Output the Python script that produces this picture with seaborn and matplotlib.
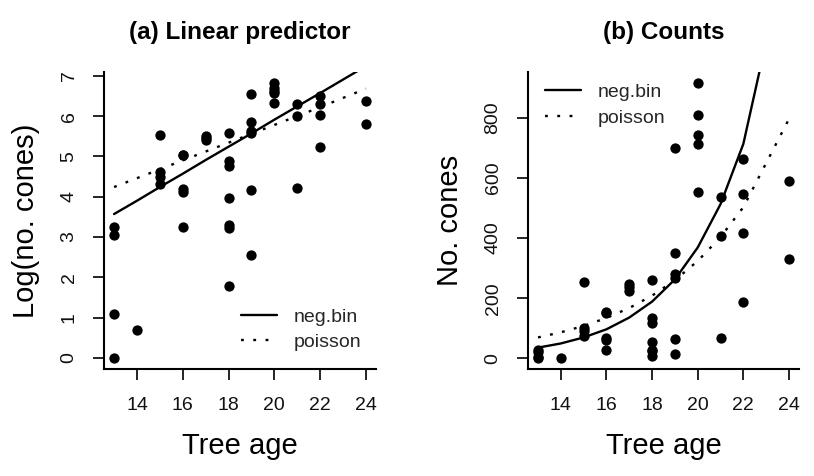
import numpy as np
import pandas as pd
from matplotlib import pyplot as plt
import seaborn as sns

sns.set_theme(style="white")
plt.rcParams['font.family'] = ['Liberation Sans', 'DejaVu Sans']

# observed trees: age and number of cones
age = [13, 13, 13, 13, 14, 15, 15, 15, 15, 16, 16, 16, 16, 16, 17, 17, 17,
       18, 18, 18, 18, 18, 18, 18, 19, 19, 19, 19, 19, 19,
       20, 20, 20, 20, 20, 21, 21, 21, 22, 22, 22, 22, 24, 24]
cones = [26, 21, 3, 1, 2, 255, 100, 90, 75, 155, 152, 66, 62, 26, 248, 236, 224,
         262, 134, 116, 53, 27, 25, 6, 700, 350, 282, 268, 65, 13,
         916, 809, 744, 713, 552, 538, 406, 68, 664, 547, 417, 187, 590, 330]

# fitted values on the linear predictor scale
fit_age = [13, 14, 15, 16, 17, 18, 19, 20, 21, 22, 24]
negbin_lp = [3.57, 3.90, 4.24, 4.57, 4.91, 5.24, 5.57, 5.91, 6.24, 6.57, 7.24]
poisson_lp = [4.24, 4.46, 4.68, 4.90, 5.12, 5.34, 5.56, 5.78, 6.00, 6.22, 6.68]

x_ticks = [14, 16, 18, 20, 22, 24]

pts = pd.DataFrame({"age": age, "cones": cones})
pts["log_cones"] = np.log(pts["cones"])
fits = pd.DataFrame({"age": fit_age, "negbin": negbin_lp, "poisson": poisson_lp})

dotted = (0, (1.2, 4))

fig = plt.figure(figsize=(8.14, 4.76), dpi=100)
ax_a = fig.add_axes([104 / 814, 107 / 476, 272 / 814, 297 / 476])
ax_b = fig.add_axes([528 / 814, 107 / 476, 271 / 814, 297 / 476])


def r_limits(values):
    lo, hi = min(values), max(values)
    pad = 0.04 * (hi - lo)
    return lo - pad, hi + pad


def style_axes(ax, title, ylabel, yticks):
    for side in ["top", "right"]:
        ax.spines[side].set_visible(False)
    for side in ["left", "bottom"]:
        ax.spines[side].set_color("black")
        ax.spines[side].set_linewidth(1.5)
    ax.set_xticks(x_ticks)
    ax.set_yticks(yticks)
    ax.tick_params(axis="both", direction="out", length=8, width=1.2, color="black",
                   labelsize=14, labelcolor="#111111", bottom=True, left=True)
    ax.tick_params(axis="x", pad=12)
    ax.tick_params(axis="y", pad=11)
    for lab in ax.get_yticklabels():
        lab.set_rotation(90)
        lab.set_va("center")
    ax.set_xlim(r_limits(age))
    ax.set_title(title, fontsize=17.5, fontweight="bold", pad=24, color="black")
    ax.set_xlabel("Tree age", fontsize=21, labelpad=13, color="black")
    ax.set_ylabel(ylabel, fontsize=21, labelpad=15, color="black")


# (a) linear predictor
sns.scatterplot(data=pts, x="age", y="log_cones", ax=ax_a, color="black", s=55,
                edgecolor="black", linewidth=0, zorder=3)
sns.lineplot(data=fits, x="age", y="negbin", ax=ax_a, color="black", lw=1.7,
             estimator=None, label="neg.bin")
sns.lineplot(data=fits, x="age", y="poisson", ax=ax_a, color="black", lw=1.7,
             linestyle=dotted, estimator=None, label="poisson")
style_axes(ax_a, "(a) Linear predictor", "Log(no. cones)", range(0, 8))
ax_a.set_ylim(r_limits(pts["log_cones"]))
ax_a.legend(loc="upper left", bbox_to_anchor=(0.505, 0.205), frameon=False,
            fontsize=14, handlelength=1.85, handletextpad=0.85, labelspacing=0.4,
            borderpad=0, borderaxespad=0)

# (b) counts
fits_counts = fits.assign(negbin=np.exp(fits["negbin"]), poisson=np.exp(fits["poisson"]))
sns.scatterplot(data=pts, x="age", y="cones", ax=ax_b, color="black", s=55,
                edgecolor="black", linewidth=0, zorder=3)
sns.lineplot(data=fits_counts, x="age", y="negbin", ax=ax_b, color="black", lw=1.7,
             estimator=None, label="neg.bin")
sns.lineplot(data=fits_counts, x="age", y="poisson", ax=ax_b, color="black", lw=1.7,
             linestyle=dotted, estimator=None, label="poisson")
style_axes(ax_b, "(b) Counts", "No. cones", range(0, 801, 200))
ax_b.set_ylim(r_limits(cones))
ax_b.legend(loc="upper left", bbox_to_anchor=(0.063, 0.961), frameon=False,
            fontsize=14, handlelength=1.85, handletextpad=0.85, labelspacing=0.4,
            borderpad=0, borderaxespad=0)

fig.savefig("out.png", dpi=100, facecolor="white")
